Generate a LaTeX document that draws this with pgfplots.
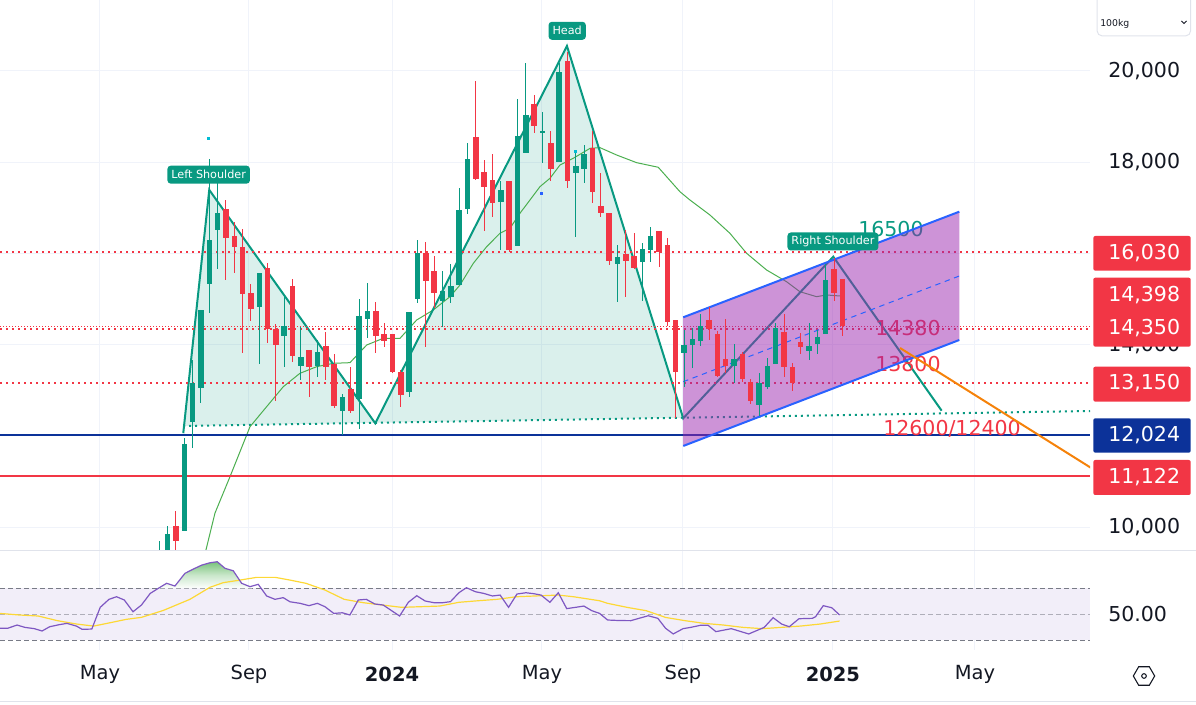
\documentclass[border=0pt]{standalone}
\usepackage{pgfplots}
\pgfplotsset{compat=1.18}
\usepackage{pgfplotstable}
\usepackage{fontspec}
\setmainfont{DejaVu Sans}
\usetikzlibrary{shapes.geometric}

\definecolor{tvgreen}{RGB}{8,153,129}
\definecolor{tvred}{RGB}{242,54,69}
\definecolor{tvnavy}{RGB}{12,50,153}
\definecolor{tvblue}{RGB}{41,98,255}
\definecolor{tvpurple}{RGB}{156,39,176}
\definecolor{tvorange}{RGB}{245,130,10}
\definecolor{smagreen}{RGB}{76,175,80}
\definecolor{rsipurple}{RGB}{126,87,194}
\definecolor{rsiyellow}{RGB}{253,216,53}
\definecolor{tvgray}{RGB}{120,123,134}
\definecolor{tvtext}{RGB}{19,23,34}
\definecolor{tvgrid}{RGB}{240,243,250}
\definecolor{tvband}{RGB}{242,238,249}
\definecolor{tvsep}{RGB}{224,227,235}
\definecolor{tvcyan}{RGB}{0,188,212}

\newcommand\axfont{\fontsize{15.4pt}{18pt}\selectfont}
\newcommand\tfont{\fontsize{14.6pt}{17pt}\selectfont}
\newcommand\lblfont{\fontsize{8.4pt}{10pt}\selectfont}
\newcommand\smfont{\fontsize{7pt}{8pt}\selectfont}

% weekly candles: i = week index, o h l c
\pgfplotstableread{
i o h l c
1 9250 9705 9150 9450
2 9400 10027 9350 9851
4 9924 11948 9924 11823
5 12299 13664 11729 13153
6 13057 14759 12728 14759
7 15336 18061 14700 16293
8 16519 17535 15657 16878
13 14832 15563 13570 15563
16 14182 15050 13517 14409
18 13539 14380 13226 13723
20 13539 14102 13298 13832
23 12553 12919 12020 12846
25 12802 15000 12145 14628
26 14569 15344 14139 14737
31 12970 14715 12860 14715
32 14994 16293 14919 16015
35 14963 15620 14393 15182
36 15050 15760 14906 15285
37 15307 17432 15307 16950
38 16966 18412 16856 18068
42 17132 17579 16074 17388
44 16161 19382 16161 18571
45 18206 20177 18206 19032
47 18630 19104 17987 18681
49 18008 20177 18008 19980
51 17768 18192 16366 17921
52 17855 18374 17535 18177
56 15760 16177 14941 15914
59 15817 16234 14963 16096
60 16074 16571 15817 16381
64 13824 14321 13079 13992
65 13992 14358 13482 14117
66 14087 14672 13977 14409
70 13539 14007 13167 13679
73 12678 13386 12437 13153
74 13079 13701 13021 13532
75 13576 14468 13576 14358
79 13868 14468 13664 13977
80 14015 14321 13795 14175
81 14233 15767 14233 15417
}\upc

\pgfplotstableread{
i o h l c
3 10027 10355 9450 9705
9 16966 17169 15417 16343
10 16380 16694 15563 16146
11 16140 16527 13811 15103
12 15125 15322 14518 14788
14 15673 15782 14043 14343
15 14336 14452 12772 13999
17 15292 15432 13627 13758
19 13883 13883 12846 13504
21 13971 14277 13226 13517
22 13576 13795 12619 12656
24 13028 13504 12509 12553
27 14737 14935 13811 14196
28 14233 14468 13942 14087
29 14233 14233 13372 13394
30 13407 13445 12641 12897
33 16015 16249 13955 15401
34 15614 15942 14796 15138
39 18543 19777 17607 17636
40 17783 18046 16497 17461
41 17607 18177 16803 17110
43 17585 17585 16023 16074
46 19273 19470 18644 18790
48 18425 18681 17585 17849
50 20221 20418 17439 17585
53 18315 18681 17110 17345
54 17038 17768 16803 16891
55 16891 16891 15745 15839
57 15986 16512 15050 15839
58 15942 16453 15651 15686
61 16490 16490 15708 16037
62 16183 16330 14409 14503
63 14540 14540 12386 13407
67 14540 14818 14102 14336
68 14227 14306 13284 13313
69 13679 14555 13386 13539
71 13795 13846 13189 13241
72 13189 13241 12700 12772
76 14284 14672 13298 13517
77 13517 13591 12991 13153
78 14064 14249 13795 13955
82 15651 15892 14963 15125
83 15432 15432 14190 14398
}\downc

\pgfplotstableread{
i p
6.25 9238
7.69 10311
9.49 11107
11.89 12202
13.89 12641
15.89 13079
17.89 13372
19.9 13517
21.89 13591
23.89 13605
25.9 13992
27.89 14139
29.9 14139
31.9 14540
33.89 14759
35.9 15051
37.1 15307
38.7 15782
40.3 16146
41.9 16440
43.1 16549
44.3 16878
46.7 17461
47.9 17644
49.1 17936
50.7 18083
52.72 18302
53.92 18315
55.9 18155
58.3 17987
60.9 17886
63.5 17351
64.7 17169
67.1 16841
69.5 16440
71.5 16002
73.9 15636
76.3 15379
77.9 15160
79.9 15051
81.1 15088
82.7 15066
}\sma

\pgfplotstableread{
i r
-18.12 39.2
-17.21 39.2
-16.06 41.7
-15.13 39.9
-13.99 38.9
-13.07 37.1
-12.16 40.4
-11.00 42.0
-10.09 43.0
-8.94 40.9
-8.26 38.4
-7.10 38.6
-6.09 55.4
-5.04 61.6
-4.13 63.6
-3.20 61.1
-2.15 52.0
-1.14 57.2
-0.08 66.2
0.88 70.1
1.88 74.0
2.88 71.9
4.08 81.7
5.08 85.0
6.10 88.1
7.09 89.9
7.96 90.7
8.89 85.6
9.88 83.7
10.89 74.0
11.89 71.4
12.88 73.2
13.89 64.2
14.89 61.6
15.88 62.9
16.69 59.7
17.91 58.5
18.97 56.7
19.98 58.5
20.89 55.9
21.95 50.7
22.97 51.2
23.88 49.5
24.89 61.1
25.85 61.6
26.87 58.0
27.88 57.2
28.94 52.6
29.85 48.7
30.90 59.3
31.91 64.4
32.92 60.3
33.98 59.0
35.03 59.0
35.96 59.8
36.97 66.7
37.88 70.6
38.94 67.5
39.94 66.2
41.00 64.2
41.92 64.9
42.93 55.4
43.94 65.7
45.00 66.7
45.92 66.0
46.83 64.9
47.89 59.3
48.90 66.7
49.91 54.4
50.96 55.4
51.97 56.4
52.93 52.8
53.86 50.7
54.82 45.6
56.2 45.2
57.6 45.1
59.69 48.9
60.85 46.9
61.78 39.2
62.70 34.8
63.87 38.9
64.79 39.9
65.96 41.5
66.88 41.5
67.82 36.6
69.67 38.9
71.76 34.8
73.62 39.9
74.69 47.4
75.70 42.5
76.63 40.4
77.79 46.6
79.41 46.9
79.79 48.2
80.71 56.7
81.73 55.1
82.67 49.5
}\rsi

\pgfplotstableread{
i m
-18.12 50.7
-15.83 49.5
-13.54 48.7
-11.23 45.1
-8.94 42.5
-6.88 40.9
-5.27 43.0
-2.97 46.1
-1.14 47.65
1.48 53.0
4.68 61.6
7.08 70.9
8.68 74.5
10.68 76.5
12.69 78.6
14.93 78.6
16.69 76.5
18.60 74.0
20.89 68.8
23.20 61.6
25.49 59.0
27.78 57.2
30.08 55.4
32.38 55.9
34.67 56.4
36.97 59.3
39.26 60.5
41.55 61.6
43.86 63.6
46.15 64.2
48.90 64.9
50.74 63.6
53.86 60.5
54.82 58.5
57.15 55.4
59.46 52.8
61.78 47.6
64.11 45.1
66.43 43.0
68.74 41.7
71.07 39.9
73.39 38.9
75.70 39.9
78.03 40.95
80.35 42.5
82.67 44.8
}\rsima

\begin{document}
\begin{tikzpicture}
% ================= PRICE PANEL =================
\begin{axis}[
  at={(0pt,116.25pt)}, anchor=south west,
  width=817.5pt, height=412.5pt, scale only axis,
  xmin=-18.12, xmax=112.73, ymin=9501, ymax=21551,
  axis line style={draw=none},
  major tick length=0pt,
  xtick={-6.12,11.77,28.94,46.94,63.87,81.87,98.92},
  xticklabels={\empty,\empty,\empty,\empty,\empty,\empty,\empty},
  ytick={10000,12000,14000,16000,18000,20000},
  yticklabel pos=right,
  scaled y ticks=false,
  /pgf/number format/1000 sep={,},
  /pgf/number format/assume math mode=true,
  yticklabel style={anchor=west, inner sep=0pt, xshift=13.5pt, font=\axfont, text=tvtext},
  grid=major, major grid style={draw=tvgrid, line width=0.75pt},
  clip=true,
]
% head and shoulders fill
\addplot[draw=none, fill=tvgreen, fill opacity=0.15] coordinates {
(3.85,12218) (3.88,12060) (7.0,17390) (26.93,12277) (49.94,20543) (63.9,12386) (63.9,12399)} -- cycle;
% neckline
\addplot[tvgreen, line width=1.5pt, dash pattern=on 1.5pt off 3pt] coordinates {(3.85,12218) (112.73,12546)};
% moving average
\addplot[smagreen, line width=0.75pt] table[x=i,y=p] {\sma};
% pattern line
\addplot[tvgreen, line width=1.5pt] coordinates {
(3.88,12060) (7.0,17390) (26.93,12277) (49.94,20543) (63.9,12386) (81.91,15927) (94.92,12553)};
% horizontal levels
\addplot[tvred, line width=1.5pt, dash pattern=on 1.5pt off 3pt] coordinates {(-18.12,16030) (112.73,16030)};
\addplot[tvred, line width=1.5pt, dash pattern=on 1.5pt off 3pt] coordinates {(-18.12,14350) (112.73,14350)};
\addplot[tvred, line width=0.75pt, dash pattern=on 0.75pt off 1.5pt] coordinates {(-18.12,14398) (112.73,14398)};
\addplot[tvred, line width=1.5pt, dash pattern=on 1.5pt off 3pt] coordinates {(-18.12,13150) (112.73,13150)};
\addplot[tvnavy, line width=1.5pt] coordinates {(-18.12,12024) (112.73,12024)};
\addplot[tvred, line width=1.5pt] coordinates {(-18.12,11122) (112.73,11122)};
% target texts
\node[anchor=base west, inner sep=0pt, font=\axfont, text=tvgreen] at (axis cs:84.88,16365) {16500};
\node[anchor=base west, inner sep=0pt, font=\axfont, text=tvred] at (axis cs:86.92,14211) {14380};
\node[anchor=base west, inner sep=0pt, font=\axfont, text=tvred] at (axis cs:86.92,13407) {13800};
\node[anchor=base west, inner sep=0pt, font=\axfont, text=tvred] at (axis cs:87.88,12000) {12600/12400};
% channel
\addplot[draw=none, fill=tvpurple, fill opacity=0.5] coordinates {
(63.9,14599) (97.04,16913) (97.04,14102) (63.9,11780)} -- cycle;
\addplot[tvblue, line width=1.5pt] coordinates {(63.9,14599) (97.04,16913)};
\addplot[tvblue, line width=1.5pt] coordinates {(63.9,11780) (97.04,14102)};
\addplot[tvblue, line width=0.75pt, dash pattern=on 4pt off 3.5pt] coordinates {(63.9,13188) (97.04,15504)};
% projection
\addplot[tvorange, line width=1.5pt] coordinates {(89.92,13927) (112.93,11291)};
% candles: wicks
\addplot[draw=none, mark=none, error bars/.cd, y dir=both, y explicit, error mark=none,
  error bar style={line width=0.75pt, draw=tvgreen, solid}]
  table[x=i, y=c, y error plus expr=\thisrow{h}-\thisrow{c}, y error minus expr=\thisrow{c}-\thisrow{l}] {\upc};
\addplot[draw=none, mark=none, error bars/.cd, y dir=both, y explicit, error mark=none,
  error bar style={line width=0.75pt, draw=tvred, solid}]
  table[x=i, y=c, y error plus expr=\thisrow{h}-\thisrow{c}, y error minus expr=\thisrow{c}-\thisrow{l}] {\downc};
% candles: bodies
\addplot[draw=none, mark=none, error bars/.cd, y dir=both, y explicit, error mark=none,
  error bar style={line width=4.1pt, draw=tvgreen, solid}]
  table[x=i, y expr=(\thisrow{o}+\thisrow{c})/2, y error expr={max(abs(\thisrow{c}-\thisrow{o})/2,12)}] {\upc};
\addplot[draw=none, mark=none, error bars/.cd, y dir=both, y explicit, error mark=none,
  error bar style={line width=4.1pt, draw=tvred, solid}]
  table[x=i, y expr=(\thisrow{o}+\thisrow{c})/2, y error expr={max(abs(\thisrow{c}-\thisrow{o})/2,12)}] {\downc};
% small markers
\addplot[only marks, mark=square*, mark size=0.8pt, tvcyan] coordinates {(6.87,18528) (50.94,18228)};
\addplot[only marks, mark=square*, mark size=0.8pt, tvblue] coordinates {(46.9,17316)};
% pattern labels
\node[fill=tvgreen, text=white, rounded corners=2.5pt, font=\lblfont, inner xsep=3pt, minimum height=13.5pt, inner ysep=0pt] at (axis cs:6.93,17724) {Left Shoulder};
\node[fill=tvgreen, text=white, rounded corners=2.5pt, font=\lblfont, inner xsep=3pt, minimum height=13.5pt, inner ysep=0pt] at (axis cs:49.97,20876) {Head};
\node[fill=tvgreen, text=white, rounded corners=2.5pt, font=\lblfont, inner xsep=3pt, minimum height=13.5pt, inner ysep=0pt] at (axis cs:81.87,16260) {Right Shoulder};
\end{axis}

% ================= RSI PANEL =================
\begin{axis}[
  at={(0pt,41.25pt)}, anchor=south west,
  width=817.5pt, height=74.25pt, scale only axis,
  xmin=-18.12, xmax=112.73, ymin=22.4, ymax=99.0,
  axis line style={draw=none},
  major tick length=0pt,
  xtick={-6.12,11.77,28.94,46.94,63.87,81.87,98.92},
  xticklabels={May,Sep,\textbf{2024},May,Sep,\textbf{2025},May},
  xticklabel style={font=\tfont, text=tvtext, anchor=center, yshift=-18.5pt},
  ytick={50}, yticklabels={50.00},
  yticklabel pos=right,
  yticklabel style={anchor=west, inner sep=0pt, xshift=13.5pt, font=\axfont, text=tvtext},
  xmajorgrids=true, ymajorgrids=false, major grid style={draw=tvgrid, line width=0.75pt},
  clip=true,
]
\addplot[draw=none, fill=tvband] coordinates {(-18.12,30) (112.73,30) (112.73,70) (-18.12,70)} -- cycle;
\addplot[tvgray, line width=0.75pt, dash pattern=on 3.5pt off 2.5pt] coordinates {(-18.12,70) (112.73,70)};
\addplot[tvgray, line width=0.75pt, dash pattern=on 3.5pt off 2.5pt, opacity=0.55] coordinates {(-18.12,50) (112.73,50)};
\addplot[tvgray, line width=0.75pt, dash pattern=on 3.5pt off 2.5pt] coordinates {(-18.12,30) (112.73,30)};
\addplot[draw=none, top color=smagreen!75, bottom color=white, middle color=smagreen!30] coordinates {
(0.86,70) (1.88,74.0) (2.88,71.9) (4.08,81.7) (5.08,85.0) (6.10,88.1) (7.09,89.9) (7.96,90.7) (8.89,85.6) (9.88,83.7) (10.89,74.0) (11.89,71.4) (12.2,70)} -- cycle;
\addplot[rsiyellow, line width=0.9pt] table[x=i,y=m] {\rsima};
\addplot[rsipurple, line width=0.9pt] table[x=i,y=r] {\rsi};
\end{axis}

\begin{scope}[x=0.75pt, y=0.75pt]
% panel separators
\draw[tvsep, line width=0.75pt] (0,154.3) -- (1196,154.3);
\draw[tvsep, line width=0.75pt] (0,3.3) -- (1196,3.3);
% price labels on the scale
\fill[tvred, rounded corners=1.5] (1093.3,469) rectangle (1190.7,434.3);
\node[anchor=base west, inner sep=0pt, font=\axfont, text=white] at (1108,445) {16,030};
\fill[tvred, rounded corners=1.5] (1093.3,427.3) rectangle (1190.7,358.3);
\node[anchor=base west, inner sep=0pt, font=\axfont, text=white] at (1108,403.3) {14,398};
\node[anchor=base west, inner sep=0pt, font=\axfont, text=white] at (1108,370) {14,350};
\fill[tvred, rounded corners=1.5] (1093.3,338.3) rectangle (1190.7,303.3);
\node[anchor=base west, inner sep=0pt, font=\axfont, text=white] at (1108,315) {13,150};
\fill[tvnavy, rounded corners=1.5] (1093.3,286.7) rectangle (1190.7,252.3);
\node[anchor=base west, inner sep=0pt, font=\axfont, text=white] at (1108,263.3) {12,024};
\fill[tvred, rounded corners=1.5] (1093.3,245) rectangle (1190.7,210);
\node[anchor=base west, inner sep=0pt, font=\axfont, text=white] at (1108,221.7) {11,122};
% unit selector
\draw[tvsep, line width=0.75pt, rounded corners=4] (1097,712) -- (1097,669) -- (1190.7,669) -- (1190.7,712);
\node[anchor=west, inner sep=0pt, font=\smfont, text=tvtext] at (1100,681) {100kg};
\draw[tvtext, line width=0.6pt] (1181.5,684) -- (1184,681.5) -- (1186.5,684);
% settings icon
\node[regular polygon, regular polygon sides=6, draw=tvtext, line width=0.8pt, minimum size=16, inner sep=0pt] at (1144,29) {};
\draw[tvtext, line width=0.8pt] (1144,29) circle (2.3);
\end{scope}

\pgfresetboundingbox
\path (0pt,0pt) rectangle (897pt,528.75pt);
\end{tikzpicture}
\end{document}
